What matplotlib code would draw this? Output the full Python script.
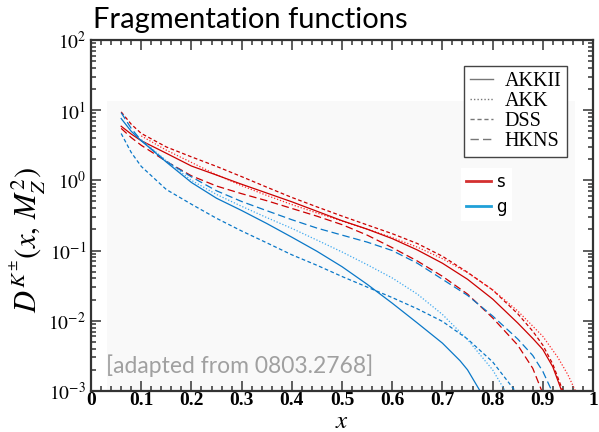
import matplotlib.pyplot as plt
from matplotlib.lines import Line2D
from matplotlib.patches import Rectangle
from matplotlib.ticker import MultipleLocator, LogLocator, NullFormatter

plt.rcParams['mathtext.fontset'] = 'stix'

####### Daten #######

# s -> K+-
s_akkii_x = [0.06, 0.08, 0.1, 0.15, 0.2, 0.25, 0.3, 0.35, 0.4, 0.45, 0.5, 0.55, 0.6, 0.65, 0.7, 0.75, 0.8, 0.85, 0.88, 0.9, 0.92, 0.9376]
s_akkii_y = [5.9, 4.57, 3.67, 2.43, 1.6, 1.19, 0.88, 0.66, 0.495, 0.363, 0.266, 0.202, 0.148, 0.102, 0.066, 0.039, 0.0204, 0.0093, 0.0056, 0.0039, 0.0022, 0.001]

s_akk_x = [0.1, 0.15, 0.2, 0.25, 0.3, 0.35, 0.4, 0.45, 0.5, 0.55, 0.6, 0.65, 0.7, 0.75, 0.8, 0.85, 0.9, 0.93, 0.95, 0.965]
s_akk_y = [4.3, 2.69, 1.8, 1.2, 0.84, 0.61, 0.452, 0.343, 0.263, 0.202, 0.153, 0.112, 0.0767, 0.0484, 0.0275, 0.0138, 0.006, 0.003, 0.0017, 0.001]

s_dss_x = [0.06, 0.08, 0.1, 0.15, 0.2, 0.25, 0.3, 0.35, 0.4, 0.45, 0.5, 0.55, 0.6, 0.65, 0.7, 0.75, 0.8, 0.85, 0.88, 0.9, 0.92, 0.94]
s_dss_y = [9.44, 6.31, 4.66, 2.99, 2.16, 1.58, 1.13, 0.8, 0.571, 0.419, 0.31, 0.232, 0.174, 0.126, 0.083, 0.049, 0.0275, 0.0126, 0.0071, 0.0045, 0.0024, 0.001]

s_hkns_x = [0.06, 0.08, 0.1, 0.15, 0.2, 0.25, 0.3, 0.35, 0.4, 0.45, 0.5, 0.55, 0.6, 0.65, 0.7, 0.75, 0.8, 0.85, 0.88, 0.898]
s_hkns_y = [5.5, 4.07, 3.16, 1.86, 1.16, 0.83, 0.646, 0.513, 0.398, 0.309, 0.234, 0.166, 0.11, 0.071, 0.043, 0.024, 0.011, 0.0045, 0.0021, 0.001]

# g -> K+-
g_akkii_x = [0.06, 0.08, 0.1, 0.15, 0.2, 0.25, 0.3, 0.35, 0.4, 0.45, 0.5, 0.55, 0.6, 0.65, 0.7, 0.735, 0.75, 0.775]
g_akkii_y = [7.6, 5.0, 3.67, 1.82, 0.933, 0.556, 0.372, 0.243, 0.155, 0.0977, 0.0589, 0.0331, 0.0178, 0.0093, 0.0048, 0.0027, 0.002, 0.001]

g_akk_x = [0.1, 0.15, 0.2, 0.25, 0.3, 0.35, 0.4, 0.45, 0.5, 0.55, 0.6, 0.65, 0.7, 0.75, 0.8, 0.825]
g_akk_y = [3.8, 1.9, 1.0, 0.63, 0.427, 0.295, 0.207, 0.141, 0.0955, 0.063, 0.0407, 0.024, 0.0123, 0.0054, 0.002, 0.001]

g_dss_x = [0.06, 0.08, 0.1, 0.15, 0.2, 0.25, 0.3, 0.35, 0.4, 0.45, 0.5, 0.55, 0.6, 0.65, 0.7, 0.75, 0.8, 0.845]
g_dss_y = [4.65, 2.5, 1.58, 0.74, 0.457, 0.288, 0.19, 0.129, 0.087, 0.0617, 0.0427, 0.0302, 0.0214, 0.0148, 0.0098, 0.0055, 0.0026, 0.001]

g_hkns_x = [0.06, 0.08, 0.1, 0.15, 0.2, 0.25, 0.3, 0.35, 0.4, 0.45, 0.5, 0.55, 0.6, 0.65, 0.7, 0.75, 0.8, 0.85, 0.88, 0.9, 0.918]
g_hkns_y = [9.2, 5.5, 3.7, 1.86, 1.12, 0.71, 0.5, 0.37, 0.275, 0.209, 0.166, 0.132, 0.1, 0.066, 0.039, 0.023, 0.0117, 0.0055, 0.0032, 0.0019, 0.001]

sets = ['AKKII', 'AKK', 'DSS', 'HKNS']
x_ticks = [0, 0.1, 0.2, 0.3, 0.4, 0.5, 0.6, 0.7, 0.8, 0.9, 1]
x_labels = ['0', '0.1', '0.2', '0.3', '0.4', '0.5', '0.6', '0.7', '0.8', '0.9', '1']
y_ticks = [1e-3, 1e-2, 1e-1, 1e0, 1e1, 1e2]
y_labels = [r'$10^{-3}$', r'$10^{-2}$', r'$10^{-1}$', r'$10^{0}$', r'$10^{1}$', r'$10^{2}$']

####### Stil #######

red = '#cc0000'
red_light = '#ff2a2a'
blue = '#0a78c8'
blue_light = '#3fa9f0'

styles = {'AKKII': '-', 'AKK': (0, (1, 1.5)), 'DSS': (0, (3, 2)), 'HKNS': (0, (6, 3))}

fig = plt.figure(figsize=(5.99, 4.32), dpi=100)
ax = fig.add_axes([0.152, 0.095, 0.838, 0.8125])

# leicht grauer Hintergrund des Originalbilds
ax.add_patch(Rectangle((0.032, 0), 0.932, 0.826, transform=ax.transAxes,
                       facecolor='#f9f9f9', lw=0, zorder=0))

lw = 0.9
ax.plot(s_dss_x, s_dss_y, color=red, ls=styles['DSS'], lw=lw)
ax.plot(s_hkns_x, s_hkns_y, color=red, ls=styles['HKNS'], lw=lw)
ax.plot(s_akk_x, s_akk_y, color=red_light, ls=styles['AKK'], lw=lw)
ax.plot(s_akkii_x, s_akkii_y, color=red, ls=styles['AKKII'], lw=lw)

ax.plot(g_dss_x, g_dss_y, color=blue, ls=styles['DSS'], lw=lw)
ax.plot(g_hkns_x, g_hkns_y, color=blue, ls=styles['HKNS'], lw=lw)
ax.plot(g_akk_x, g_akk_y, color=blue_light, ls=styles['AKK'], lw=lw)
ax.plot(g_akkii_x, g_akkii_y, color=blue, ls=styles['AKKII'], lw=lw)

ax.set_yscale('log')
ax.set_xlim(0, 1)
ax.set_ylim(1e-3, 1e2)

ax.set_xticks(x_ticks, x_labels, fontfamily='Liberation Serif', fontweight='bold', fontsize=14)
ax.xaxis.set_minor_locator(MultipleLocator(0.02))
ax.set_yticks(y_ticks, y_labels, fontsize=14)
ax.yaxis.set_minor_locator(LogLocator(base=10, subs=range(2, 10), numticks=20))
ax.yaxis.set_minor_formatter(NullFormatter())

ax.tick_params(which='both', direction='in', top=True, right=True, color='#333333', width=1.1)
ax.tick_params(which='major', length=7)
ax.tick_params(axis='x', which='major', pad=1)
ax.tick_params(which='minor', length=3.5)
for sp in ax.spines.values():
    sp.set_color('#333333')
    sp.set_linewidth(1.6)

ax.set_xlabel(r'$x$', fontsize=18)
ax.xaxis.set_label_coords(0.5, -0.052)
ax.set_ylabel(r'$D^{K^{\pm}}(x,\, M_Z^2)$', fontsize=22)
ax.yaxis.set_label_coords(-0.085, 0.43)

fig.text(93 / 599, 1 - 28 / 432, 'Fragmentation functions', fontfamily='Lato',
         fontsize=21, va='baseline', ha='left', color='black')

ax.text(0.029, 0.071, '[adapted from 0803.2768]', transform=ax.transAxes,
        fontfamily='Lato', fontsize=16.5, color='#a0a0a0', va='center', ha='left')

# Legende 1: Parametrisierungen
h1 = [Line2D([], [], color='#777777', lw=1, ls=styles[s]) for s in sets]
leg1 = ax.legend(h1, sets, loc='upper left', bbox_to_anchor=(0.743, 0.926),
                 frameon=True, fancybox=False, edgecolor='#444444', framealpha=1,
                 prop={'family': 'Liberation Serif', 'size': 14.5},
                 handlelength=1.15, handletextpad=0.6, labelspacing=0.05,
                 borderpad=0.28, borderaxespad=0)
leg1.get_frame().set_linewidth(1.0)
ax.add_artist(leg1)

# Legende 2: Partonen
h2 = [Line2D([], [], color='#d43030', lw=2), Line2D([], [], color='#20a0d8', lw=2)]
ax.legend(h2, ['s', 'g'], loc='upper left', bbox_to_anchor=(0.738, 0.635),
          frameon=True, fancybox=False, edgecolor='none', facecolor='white', framealpha=1,
          prop={'family': 'DejaVu Sans', 'size': 12}, handlelength=1.5,
          handletextpad=0.3, labelspacing=0.4, borderpad=0.3, borderaxespad=0)

fig.savefig('out.png', dpi=100)
